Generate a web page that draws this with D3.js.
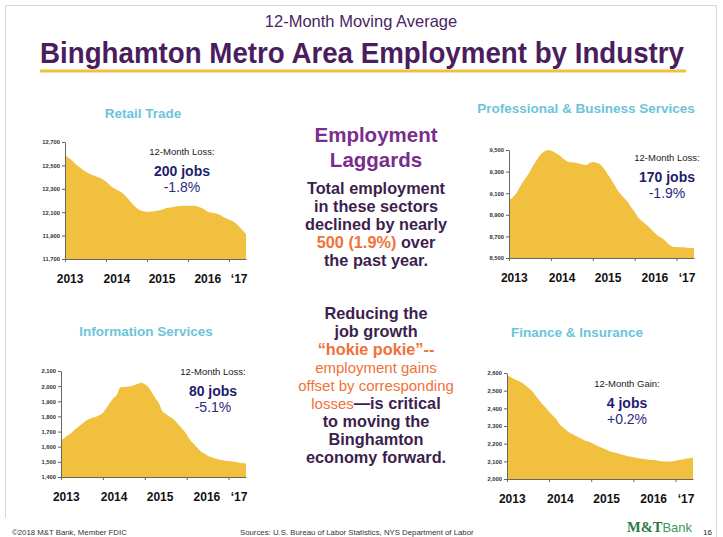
<!DOCTYPE html>
<html lang="en">
  <head>
    <meta charset="utf-8" />
    <title>Binghamton Metro Area Employment by Industry</title>
    <script src="https://d3js.org/d3.v7.min.js"></script>
    <style>
      body {
        margin: 0;
        background: #ffffff;
        font-family: "Liberation Sans", Arial, sans-serif;
      }
      svg text {
        font-family: "Liberation Sans", Arial, sans-serif;
      }
      .domain {
        stroke: #666;
      }
      .tick line {
        stroke: #666;
      }
    </style>
  </head>
  <body>
    <svg id="slide" width="723" height="537"></svg>
    <script>
      // 12-month moving averages, monthly from Jan 2013
      const retail = [12592, 12565, 12545, 12515, 12490, 12468, 12448, 12430, 12418, 12408, 12396, 12382,
        12362, 12335, 12312, 12295, 12278, 12258, 12230, 12195, 12162, 12136, 12116, 12108,
        12104, 12104, 12108, 12113, 12118, 12127, 12137, 12140, 12146, 12151, 12153, 12155,
        12156, 12155, 12154, 12148, 12135, 12121, 12102, 12095, 12092, 12083, 12065, 12050,
        12038, 12025, 12005, 11975, 11945, 11912];
      const profBusiness = [9036, 9060, 9094, 9150, 9205, 9250, 9300, 9360, 9410, 9455, 9483, 9500,
        9495, 9480, 9460, 9435, 9410, 9390, 9386, 9382, 9375, 9367, 9360, 9378,
        9390, 9383, 9370, 9335, 9290, 9240, 9190, 9135, 9090, 9055, 9018, 8970,
        8925, 8875, 8845, 8818, 8790, 8758, 8725, 8700, 8680, 8650, 8620, 8605,
        8602, 8600, 8599, 8596, 8592, 8592];
      const information = [1642, 1658, 1675, 1693, 1713, 1732, 1750, 1770, 1782, 1792, 1798, 1808,
        1825, 1855, 1890, 1920, 1942, 1993, 1995, 1996, 2000, 2006, 2015, 2023,
        2012, 1995, 1960, 1922, 1890, 1835, 1818, 1800, 1786, 1764, 1738, 1712,
        1680, 1645, 1620, 1595, 1570, 1555, 1541, 1532, 1524, 1518, 1512, 1508,
        1505, 1502, 1499, 1494, 1490, 1489];
      const finance = [2587, 2578, 2567, 2557, 2547, 2534, 2518, 2501, 2476, 2450, 2425, 2405,
        2380, 2360, 2340, 2310, 2292, 2275, 2260, 2250, 2240, 2230, 2220, 2213,
        2205, 2195, 2185, 2177, 2168, 2160, 2153, 2148, 2143, 2137, 2132, 2127,
        2123, 2119, 2116, 2113, 2111, 2109, 2107, 2104, 2101, 2099, 2099, 2100,
        2104, 2107, 2111, 2115, 2118, 2122];

      const retailTicks = [11700, 11900, 12100, 12300, 12500, 12700];
      const profTicks = [8500, 8700, 8900, 9100, 9300, 9500];
      const infoTicks = [1400, 1500, 1600, 1700, 1800, 1900, 2000, 2100];
      const financeTicks = [2000, 2100, 2200, 2300, 2400, 2500, 2600];

      const yearTickMonths = [0, 12, 24, 36, 48];
      const yearLabels = ["2013", "2014", "2015", "2016", "\u201817"];
      const yearLabelMonths = [1.5, 15.2, 28.4, 41.8, 51];

      const panelTitles = ["Retail Trade", "Professional & Business Services", "Information Services", "Finance & Insurance"];
      const changeHeads = ["12-Month Loss:", "12-Month Loss:", "12-Month Loss:", "12-Month Gain:"];
      const changeJobs = ["200 jobs", "170 jobs", "80 jobs", "4 jobs"];
      const changePct = ["-1.8%", "-1.9%", "-5.1%", "+0.2%"];

      const svg = d3.select("#slide");
      const gold = "#f0c03e";
      const navy = "#1f1d6e";

      // slide frame
      svg.append("path")
        .attr("d", "M5.5,518 V5.5 H716.5 V537")
        .attr("fill", "none")
        .attr("stroke", "#d6d6d6");

      svg.append("text")
        .attr("x", 361).attr("y", 27)
        .attr("text-anchor", "middle")
        .attr("font-size", 16.5)
        .attr("fill", "#4a2563")
        .text("12-Month Moving Average");

      svg.append("text")
        .attr("x", 40).attr("y", 63)
        .attr("font-size", 29)
        .attr("font-weight", "bold")
        .attr("fill", "#4b1d5e")
        .attr("textLength", 644)
        .attr("lengthAdjust", "spacingAndGlyphs")
        .text("Binghamton Metro Area Employment by Industry");

      svg.append("rect")
        .attr("x", 40).attr("y", 69.5)
        .attr("width", 646).attr("height", 3)
        .attr("fill", gold);

      const panels = [
        { values: retail, ticks: retailTicks, x0: 65, x1: 246, yTop: 142, yBot: 259,
          titleX: 143, titleY: 118, noteX: 182, noteY: 155 },
        { values: profBusiness, ticks: profTicks, x0: 509, x1: 694, yTop: 150, yBot: 258,
          titleX: 586, titleY: 113, noteX: 667, noteY: 161 },
        { values: information, ticks: infoTicks, x0: 61, x1: 246, yTop: 371, yBot: 477,
          titleX: 146, titleY: 336, noteX: 213, noteY: 375 },
        { values: finance, ticks: financeTicks, x0: 507, x1: 693, yTop: 373, yBot: 479,
          titleX: 577, titleY: 337, noteX: 627, noteY: 387 }
      ];

      panels.forEach((p, i) => {
        const x = d3.scaleLinear().domain([0, p.values.length - 1]).range([p.x0, p.x1]);
        const y = d3.scaleLinear().domain(d3.extent(p.ticks)).range([p.yBot, p.yTop]);
        const g = svg.append("g");

        g.append("path")
          .datum(p.values)
          .attr("fill", gold)
          .attr("d", d3.area()
            .x((d, k) => x(k))
            .y0(y(p.ticks[0]))
            .y1((d) => y(d))
            .curve(d3.curveMonotoneX));

        const yAxis = g.append("g")
          .attr("transform", `translate(${p.x0},0)`)
          .call(d3.axisLeft(y).tickValues(p.ticks).tickSize(3).tickSizeOuter(0).tickPadding(2)
            .tickFormat(d3.format(",")));
        yAxis.selectAll("text")
          .attr("font-size", 5.8)
          .attr("font-weight", "bold")
          .attr("fill", "#333");

        g.append("g")
          .attr("transform", `translate(0,${p.yBot})`)
          .call(d3.axisBottom(x).tickValues(yearTickMonths).tickSize(3).tickSizeOuter(0)
            .tickFormat(""));

        g.selectAll(".year")
          .data(yearLabels)
          .join("text")
          .attr("class", "year")
          .attr("x", (d, k) => x(yearLabelMonths[k]))
          .attr("y", p.yBot + 24)
          .attr("text-anchor", "middle")
          .attr("font-size", 12)
          .attr("font-weight", "bold")
          .attr("fill", "#111")
          .text((d) => d);

        svg.append("text")
          .attr("x", p.titleX).attr("y", p.titleY)
          .attr("text-anchor", "middle")
          .attr("font-size", 13.5)
          .attr("font-weight", "bold")
          .attr("fill", "#6cc4d9")
          .text(panelTitles[i]);

        svg.append("text")
          .attr("x", p.noteX).attr("y", p.noteY)
          .attr("text-anchor", "middle")
          .attr("font-size", 9.5)
          .attr("fill", "#222")
          .text(changeHeads[i]);
        svg.append("text")
          .attr("x", p.noteX).attr("y", p.noteY + 21)
          .attr("text-anchor", "middle")
          .attr("font-size", 14)
          .attr("font-weight", "bold")
          .attr("fill", navy)
          .text(changeJobs[i]);
        svg.append("text")
          .attr("x", p.noteX).attr("y", p.noteY + 37)
          .attr("text-anchor", "middle")
          .attr("font-size", 14)
          .attr("fill", "#2a2a80")
          .text(changePct[i]);
      });

      // centre commentary
      const purple = "#7a2d8c";
      const dark = "#3c1f4e";
      const orange = "#f07238";
      const cx = 376;

      [["Employment", 142], ["Laggards", 167]].forEach(([t, yy]) => {
        svg.append("text")
          .attr("x", cx).attr("y", yy)
          .attr("text-anchor", "middle")
          .attr("font-size", 20.5)
          .attr("font-weight", "bold")
          .attr("fill", purple)
          .text(t);
      });

      // each line: list of [text, colour, bold]
      const bodyLines = [
        [["Total employment", dark, true]],
        [["in these sectors", dark, true]],
        [["declined by nearly", dark, true]],
        [["500 (1.9%)", orange, true], [" over", dark, true]],
        [["the past year.", dark, true]],
        null,
        null,
        [["Reducing the", dark, true]],
        [["job growth", dark, true]],
        [["\u201chokie pokie\u201d--", orange, true]],
        [["employment gains", orange, false]],
        [["offset by corresponding", orange, false]],
        [["losses", orange, false], ["\u2014is critical", dark, true]],
        [["to moving the", dark, true]],
        [["Binghamton", dark, true]],
        [["economy forward.", dark, true]]
      ];

      bodyLines.forEach((line, k) => {
        if (!line) return;
        const t = svg.append("text")
          .attr("x", cx).attr("y", 194 + k * 17.9)
          .attr("text-anchor", "middle");
        line.forEach(([s, c, b]) => {
          t.append("tspan")
            .attr("fill", c)
            .attr("font-weight", b ? "bold" : "normal")
            .attr("font-size", b ? 16.3 : 15)
            .text(s);
        });
      });

      // footer
      svg.append("text")
        .attr("x", 12).attr("y", 535)
        .attr("font-size", 7.8)
        .attr("fill", "#333")
        .text("\u00a92018 M&T Bank, Member FDIC");
      svg.append("text")
        .attr("x", 240).attr("y", 535)
        .attr("font-size", 7.8)
        .attr("fill", "#333")
        .text("Sources:  U.S. Bureau of Labor Statistics, NYS Department of Labor");

      const logo = svg.append("text").attr("x", 627).attr("y", 532);
      logo.append("tspan")
        .attr("font-family", "'Liberation Serif', 'DejaVu Serif', serif")
        .attr("font-weight", "bold")
        .attr("font-size", 14.5)
        .attr("fill", "#2b7a46")
        .text("M&T");
      logo.append("tspan")
        .attr("font-size", 13)
        .attr("fill", "#3d9a5c")
        .text("Bank");
      svg.append("text")
        .attr("x", 703).attr("y", 535)
        .attr("font-size", 8)
        .attr("fill", "#222")
        .text("16");
    </script>
  </body>
</html>
